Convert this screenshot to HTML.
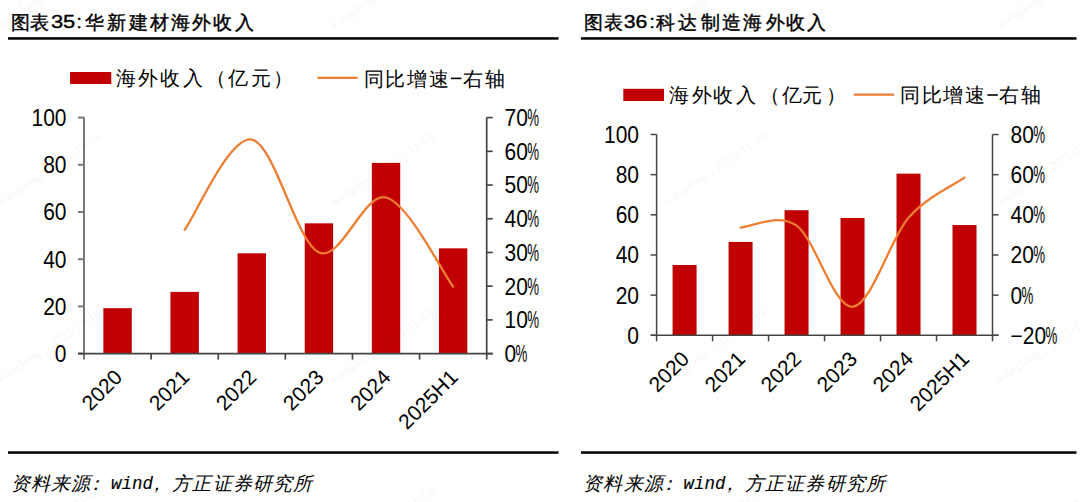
<!DOCTYPE html>
<html><head><meta charset="utf-8">
<style>
html,body{margin:0;padding:0;background:#fff;}
body{width:1080px;height:502px;position:relative;overflow:hidden;font-family:"Liberation Sans",sans-serif;}
svg{position:absolute;left:0;top:0;}
</style></head><body>
<svg width="1080" height="502" viewBox="0 0 1080 502">
<rect x="8" y="37.2" width="550.5" height="2.5" fill="#000"/>
<rect x="581" y="37.2" width="495.5" height="2.5" fill="#000"/>
<rect x="8" y="451.3" width="550.5" height="2.5" fill="#000"/>
<rect x="581" y="451.3" width="495.5" height="2.5" fill="#000"/>
<g font-family="Liberation Sans, sans-serif" font-size="19" fill="#000" stroke="#000" stroke-width="0.4">
<text x="10.70 30.10" y="29">图表</text>
<text x="85.20 106.60 128.60 149.80 170.70 192.00 213.40 234.80" y="29">华新建材海外收入</text>
<text x="584.20 604.30" y="29">图表</text>
<text x="656.10 678.20 700.70 721.50 743.20 765.70 785.70 807.30" y="29">科达制造海外收入</text>
</g>
<g font-family="Liberation Sans, sans-serif" font-size="19" fill="#000" stroke="#000" stroke-width="0.4">
<text x="50.9" y="28.4" textLength="24.4" lengthAdjust="spacingAndGlyphs">35</text>
<text x="623.7" y="28.4" textLength="23.6" lengthAdjust="spacingAndGlyphs">36</text>
<text x="76.6" y="28.4">:</text>
<text x="649.4" y="28.4">:</text>
</g>
<g font-family="Liberation Sans, sans-serif" font-size="19.5" fill="#000">
<rect x="70" y="72" width="41.3" height="12" fill="#C00000"/>
<text x="115.70 138.20 159.80 183.20 206.00 227.60 251.00 272.50" y="85">海外收入（亿元）</text>
<path d="M317.4,77.9 H357.6" stroke="#ED7D31" stroke-width="2.3"/>
<text x="363.90 384.70 406.90 429.10" y="85.5">同比增速</text>
<rect x="451" y="77.6" width="10.4" height="1.6" fill="#000"/>
<text x="462.50 484.70" y="85.5">右轴</text>
<rect x="623.3" y="88.8" width="40.7" height="12.2" fill="#C00000"/>
<text x="669.00 691.50 713.20 735.70 760.00 782.30 802.30 826.00" y="101.5">海外收入（亿元）</text>
<path d="M853.8,94.6 H894" stroke="#ED7D31" stroke-width="2.3"/>
<text x="900.25 921.80 942.60 964.80" y="102">同比增速</text>
<rect x="987.4" y="94.2" width="10.4" height="1.6" fill="#000"/>
<text x="998.90 1021.10" y="102">右轴</text>
</g>
<g font-family="Liberation Sans, sans-serif" font-size="19" font-style="italic" fill="#000">
<text x="10.50 30.70 50.90 71.10 86.30" y="489.5">资料来源：</text>
<text x="147.40 172.10 192.30 212.50 232.70 252.90 273.10 293.30" y="489.5">，方正证券研究所</text>
<text x="583.10 603.30 623.50 643.70 658.90" y="489.5">资料来源：</text>
<text x="720.00 744.70 764.90 785.10 805.30 825.50 845.70 865.90" y="489.5">，方正证券研究所</text>
</g>
<g font-family="Liberation Mono, monospace" font-size="17.5" font-style="italic" fill="#000" stroke="#000" stroke-width="0.12">
<text x="111" y="488.5" textLength="42" lengthAdjust="spacingAndGlyphs">wind</text>
<text x="683.6" y="488.5" textLength="42" lengthAdjust="spacingAndGlyphs">wind</text>
</g>
<rect x="103.36" y="308.17" width="28.40" height="45.43" fill="#C00000"/>
<rect x="170.47" y="291.89" width="28.40" height="61.71" fill="#C00000"/>
<rect x="237.59" y="253.30" width="28.40" height="100.30" fill="#C00000"/>
<rect x="304.71" y="223.33" width="28.40" height="130.27" fill="#C00000"/>
<rect x="371.82" y="162.91" width="28.40" height="190.69" fill="#C00000"/>
<rect x="438.94" y="248.34" width="28.40" height="105.26" fill="#C00000"/>
<g stroke="#777" stroke-width="2.0" fill="none">
<path d="M84,117.6 V359.6"/>
<path d="M78,353.60 H84"/>
<path d="M78,306.40 H84"/>
<path d="M78,259.20 H84"/>
<path d="M78,212.00 H84"/>
<path d="M78,164.80 H84"/>
<path d="M78,117.60 H84"/>
</g>
<g stroke="#444" stroke-width="1.7" fill="none">
<path d="M486.7,117.6 V359.6 M78,353.6 H492.7"/>
<path d="M486.7,353.60 H492.7"/>
<path d="M486.7,319.89 H492.7"/>
<path d="M486.7,286.17 H492.7"/>
<path d="M486.7,252.46 H492.7"/>
<path d="M486.7,218.74 H492.7"/>
<path d="M486.7,185.03 H492.7"/>
<path d="M486.7,151.31 H492.7"/>
<path d="M486.7,117.60 H492.7"/>
<path d="M151.12,353.6 V359.6"/>
<path d="M218.23,353.6 V359.6"/>
<path d="M285.35,353.6 V359.6"/>
<path d="M352.47,353.6 V359.6"/>
<path d="M419.58,353.6 V359.6"/>
</g>
<path d="M184.67,229.87 C195.86,214.81 229.42,135.75 251.79,139.51 C274.16,143.28 296.54,242.79 318.91,252.46 C341.28,262.12 363.65,191.80 386.02,197.50 C408.40,203.21 441.96,271.81 453.14,286.68" fill="none" stroke="#ED7D31" stroke-width="2.3" stroke-linecap="round"/>
<g font-family="Liberation Sans, sans-serif" font-size="21" fill="#000">
<text transform="translate(66.5,362.00) scale(1,1.1)" text-anchor="end">0</text>
<text transform="translate(66.5,314.80) scale(1,1.1)" text-anchor="end">20</text>
<text transform="translate(66.5,267.60) scale(1,1.1)" text-anchor="end">40</text>
<text transform="translate(66.5,220.40) scale(1,1.1)" text-anchor="end">60</text>
<text transform="translate(66.5,173.20) scale(1,1.1)" text-anchor="end">80</text>
<text transform="translate(66.5,126.00) scale(1,1.1)" text-anchor="end">100</text>
<text transform="translate(504.5,362.00) scale(1,1.1)">0</text>
<text transform="translate(515.58,362.00) scale(0.63,1.1)">%</text>
<text transform="translate(504.5,328.29) scale(1,1.1)">10</text>
<text transform="translate(527.25,328.29) scale(0.63,1.1)">%</text>
<text transform="translate(504.5,294.57) scale(1,1.1)">20</text>
<text transform="translate(527.25,294.57) scale(0.63,1.1)">%</text>
<text transform="translate(504.5,260.86) scale(1,1.1)">30</text>
<text transform="translate(527.25,260.86) scale(0.63,1.1)">%</text>
<text transform="translate(504.5,227.14) scale(1,1.1)">40</text>
<text transform="translate(527.25,227.14) scale(0.63,1.1)">%</text>
<text transform="translate(504.5,193.43) scale(1,1.1)">50</text>
<text transform="translate(527.25,193.43) scale(0.63,1.1)">%</text>
<text transform="translate(504.5,159.71) scale(1,1.1)">60</text>
<text transform="translate(527.25,159.71) scale(0.63,1.1)">%</text>
<text transform="translate(504.5,126.00) scale(1,1.1)">70</text>
<text transform="translate(527.25,126.00) scale(0.63,1.1)">%</text>
<text transform="translate(123.56,378.60) rotate(-45)" text-anchor="end">2020</text>
<text transform="translate(190.67,378.60) rotate(-45)" text-anchor="end">2021</text>
<text transform="translate(257.79,378.60) rotate(-45)" text-anchor="end">2022</text>
<text transform="translate(324.91,378.60) rotate(-45)" text-anchor="end">2023</text>
<text transform="translate(392.02,378.60) rotate(-45)" text-anchor="end">2024</text>
<text transform="translate(459.14,378.60) rotate(-45)" text-anchor="end">2025H1</text>
</g>
<rect x="672.59" y="265.02" width="24.00" height="70.28" fill="#C00000"/>
<rect x="728.58" y="241.93" width="24.00" height="93.37" fill="#C00000"/>
<rect x="784.56" y="210.20" width="24.00" height="125.10" fill="#C00000"/>
<rect x="840.54" y="218.03" width="24.00" height="117.27" fill="#C00000"/>
<rect x="896.52" y="173.66" width="24.00" height="161.64" fill="#C00000"/>
<rect x="952.51" y="225.06" width="24.00" height="110.24" fill="#C00000"/>
<g stroke="#444" stroke-width="1.5" fill="none">
<path d="M656.6,134.5 V341.3"/>
<path d="M650.6,335.30 H656.6"/>
<path d="M650.6,295.14 H656.6"/>
<path d="M650.6,254.98 H656.6"/>
<path d="M650.6,214.82 H656.6"/>
<path d="M650.6,174.66 H656.6"/>
<path d="M650.6,134.50 H656.6"/>
</g>
<g stroke="#444" stroke-width="1.5" fill="none">
<path d="M992.5,134.5 V341.3 M650.6,335.3 H998.5"/>
<path d="M992.5,335.30 H998.5"/>
<path d="M992.5,295.14 H998.5"/>
<path d="M992.5,254.98 H998.5"/>
<path d="M992.5,214.82 H998.5"/>
<path d="M992.5,174.66 H998.5"/>
<path d="M992.5,134.50 H998.5"/>
<path d="M712.58,335.3 V341.3"/>
<path d="M768.57,335.3 V341.3"/>
<path d="M824.55,335.3 V341.3"/>
<path d="M880.53,335.3 V341.3"/>
<path d="M936.52,335.3 V341.3"/>
</g>
<path d="M740.58,227.67 C749.91,227.34 777.90,212.48 796.56,225.66 C815.22,238.85 833.88,308.09 852.54,306.79 C871.20,305.48 889.86,239.35 908.52,217.83 C927.19,196.31 955.18,184.37 964.51,177.67" fill="none" stroke="#ED7D31" stroke-width="2.3" stroke-linecap="round"/>
<g font-family="Liberation Sans, sans-serif" font-size="21" fill="#000">
<text transform="translate(639,343.70) scale(1,1.1)" text-anchor="end">0</text>
<text transform="translate(639,303.54) scale(1,1.1)" text-anchor="end">20</text>
<text transform="translate(639,263.38) scale(1,1.1)" text-anchor="end">40</text>
<text transform="translate(639,223.22) scale(1,1.1)" text-anchor="end">60</text>
<text transform="translate(639,183.06) scale(1,1.1)" text-anchor="end">80</text>
<text transform="translate(639,142.90) scale(1,1.1)" text-anchor="end">100</text>
<text transform="translate(1010.5,343.70) scale(1,1.1)">−20</text>
<text transform="translate(1045.52,343.70) scale(0.63,1.1)">%</text>
<text transform="translate(1010.5,303.54) scale(1,1.1)">0</text>
<text transform="translate(1021.58,303.54) scale(0.63,1.1)">%</text>
<text transform="translate(1010.5,263.38) scale(1,1.1)">20</text>
<text transform="translate(1033.25,263.38) scale(0.63,1.1)">%</text>
<text transform="translate(1010.5,223.22) scale(1,1.1)">40</text>
<text transform="translate(1033.25,223.22) scale(0.63,1.1)">%</text>
<text transform="translate(1010.5,183.06) scale(1,1.1)">60</text>
<text transform="translate(1033.25,183.06) scale(0.63,1.1)">%</text>
<text transform="translate(1010.5,142.90) scale(1,1.1)">80</text>
<text transform="translate(1033.25,142.90) scale(0.63,1.1)">%</text>
<text transform="translate(690.59,360.30) rotate(-45)" text-anchor="end">2020</text>
<text transform="translate(746.58,360.30) rotate(-45)" text-anchor="end">2021</text>
<text transform="translate(802.56,360.30) rotate(-45)" text-anchor="end">2022</text>
<text transform="translate(858.54,360.30) rotate(-45)" text-anchor="end">2023</text>
<text transform="translate(914.52,360.30) rotate(-45)" text-anchor="end">2024</text>
<text transform="translate(970.51,360.30) rotate(-45)" text-anchor="end">2025H1</text>
</g>
<g font-family="Liberation Serif, serif" font-size="13" fill="#808080" fill-opacity="0.1"><text transform="translate(0.0,29.0) rotate(-33.7)" textLength="122" lengthAdjust="spacingAndGlyphs">wanglong，2025-11-18</text><text transform="translate(333.2,29.0) rotate(-33.7)" textLength="122" lengthAdjust="spacingAndGlyphs">wanglong，2025-11-18</text><text transform="translate(666.4,29.0) rotate(-33.7)" textLength="122" lengthAdjust="spacingAndGlyphs">wanglong，2025-11-18</text><text transform="translate(999.6,29.0) rotate(-33.7)" textLength="122" lengthAdjust="spacingAndGlyphs">wanglong，2025-11-18</text><text transform="translate(0.0,206.3) rotate(-33.7)" textLength="122" lengthAdjust="spacingAndGlyphs">wanglong，2025-11-18</text><text transform="translate(333.2,206.3) rotate(-33.7)" textLength="122" lengthAdjust="spacingAndGlyphs">wanglong，2025-11-18</text><text transform="translate(666.4,206.3) rotate(-33.7)" textLength="122" lengthAdjust="spacingAndGlyphs">wanglong，2025-11-18</text><text transform="translate(999.6,206.3) rotate(-33.7)" textLength="122" lengthAdjust="spacingAndGlyphs">wanglong，2025-11-18</text><text transform="translate(0.0,383.6) rotate(-33.7)" textLength="122" lengthAdjust="spacingAndGlyphs">wanglong，2025-11-18</text><text transform="translate(333.2,383.6) rotate(-33.7)" textLength="122" lengthAdjust="spacingAndGlyphs">wanglong，2025-11-18</text><text transform="translate(666.4,383.6) rotate(-33.7)" textLength="122" lengthAdjust="spacingAndGlyphs">wanglong，2025-11-18</text><text transform="translate(999.6,383.6) rotate(-33.7)" textLength="122" lengthAdjust="spacingAndGlyphs">wanglong，2025-11-18</text><text transform="translate(0.0,560.9) rotate(-33.7)" textLength="122" lengthAdjust="spacingAndGlyphs">wanglong，2025-11-18</text><text transform="translate(333.2,560.9) rotate(-33.7)" textLength="122" lengthAdjust="spacingAndGlyphs">wanglong，2025-11-18</text><text transform="translate(666.4,560.9) rotate(-33.7)" textLength="122" lengthAdjust="spacingAndGlyphs">wanglong，2025-11-18</text><text transform="translate(999.6,560.9) rotate(-33.7)" textLength="122" lengthAdjust="spacingAndGlyphs">wanglong，2025-11-18</text></g>
</svg>
</body></html>
